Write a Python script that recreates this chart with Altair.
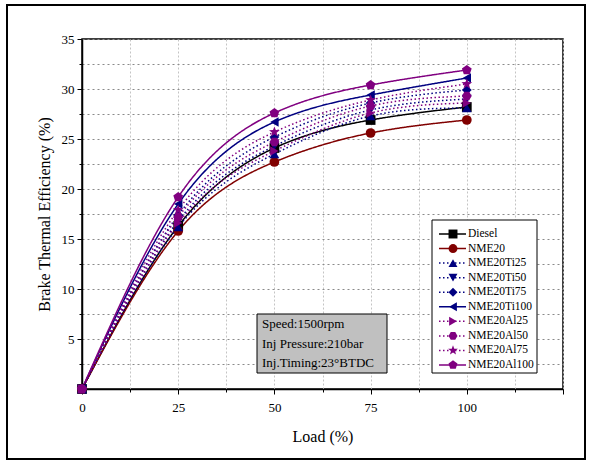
import math
import altair as alt
import pandas as pd

# ---------------- data ----------------
loads = [0, 25, 50, 75, 100]
series_names = ["Diesel", "NME20", "NME20Ti25", "NME20Ti50", "NME20Ti75", "NME20Ti100",
                "NME20Al25", "NME20Al50", "NME20Al75", "NME20Al100"]
diesel = [0, 16.3, 24.1, 26.9, 28.2]
nme20 = [0, 15.8, 22.7, 25.6, 26.9]
ti25 = [0, 16.2, 23.5, 27.3, 28.1]
ti50 = [0, 16.8, 24.3, 27.9, 29.0]
ti75 = [0, 17.4, 25.2, 28.6, 29.9]
ti100 = [0, 18.5, 26.7, 29.4, 31.1]
al25 = [0, 16.6, 23.8, 27.6, 28.6]
al50 = [0, 17.2, 24.7, 28.3, 29.3]
al75 = [0, 17.9, 25.7, 28.9, 30.5]
al100 = [0, 19.2, 27.6, 30.4, 31.9]
series_values = [diesel, nme20, ti25, ti50, ti75, ti100, al25, al50, al75, al100]

x_ticks = [i * 12.5 for i in range(11)]
y_ticks = [i * 2.5 for i in range(15)]
info_lines = ["Speed:1500rpm", "Inj Pressure:210bar", "Inj.Timing:23\u00b0BTDC"]

rows = []
for k, (name, vals) in enumerate(zip(series_names, series_values)):
    for l, v in zip(loads, vals):
        rows.append({"series": name, "load": l, "bte": v, "order": k})
df = pd.DataFrame(rows)
df_leg = pd.DataFrame({"series": series_names, "order": list(range(len(series_names)))})
one = pd.DataFrame({"a": [0]})

# ---------------- styles ----------------
BLACK, WINE, NAVY, PURPLE = "#000000", "#800000", "#000080", "#800080"
colors = [BLACK, WINE, NAVY, NAVY, NAVY, NAVY, PURPLE, PURPLE, PURPLE, PURPLE]
solid, dot = [1, 0], [1.5, 2.5]
dashes = [solid, solid, dot, dot, dot, solid, dot, dot, dot, solid]


def poly(n, r_out, r_in=None, start=-90):
    pts = []
    m = n * 2 if r_in else n
    for i in range(m):
        ang = math.radians(start + i * 360.0 / m)
        r = r_out if (r_in is None or i % 2 == 0) else r_in
        pts.append((r * math.cos(ang), r * math.sin(ang)))
    return "M" + " L".join(f"{x:.3f},{y:.3f}" for x, y in pts) + " Z"


hexagon = poly(6, 1.0, start=0)
star = poly(5, 1.15, 0.48)
pentagon = poly(5, 1.05)
shapes = ["square", "circle", "triangle-up", "triangle-down", "diamond", "triangle-left",
          "triangle-right", hexagon, star, pentagon]

color_scale = alt.Scale(domain=series_names, range=colors)
dash_scale = alt.Scale(domain=series_names, range=dashes)
shape_scale = alt.Scale(domain=series_names, range=shapes)

FONT = "Liberation Serif"

x_scale = alt.Scale(domain=[0, 125], nice=False, zero=False)
y_scale = alt.Scale(domain=[0, 35], nice=False, zero=False)

x_axis = alt.Axis(
    values=x_ticks, title="Load (%)", titleFontSize=16, titleFontWeight="normal",
    titleBaseline="alphabetic", titleY=52, titleX=240.5, titleAnchor="middle",
    labelFontSize=13, labelPadding=7, labelColor="black",
    labelExpr="(datum.value % 25 === 0 && datum.value <= 100) ? datum.label : ''",
    tickSize={"condition": {"test": "datum.value % 25 === 0", "value": 5}, "value": 3},
    tickColor="black", domainColor="black", domainWidth=1.5, labelFlush=False,
    grid=True, gridColor="#c4c4c4", gridDash=[2, 2], gridWidth=1,
)
y_axis = alt.Axis(
    values=y_ticks, title="Brake Thermal Efficiency (%)", titleFontSize=16,
    titleFontWeight="normal", titlePadding=9, labelFontSize=13, labelPadding=3,
    labelColor="black",
    labelExpr="(datum.value % 5 === 0 && datum.value > 0) ? datum.label : ''",
    tickSize={"condition": {"test": "datum.value % 5 === 0", "value": 5}, "value": 3},
    tickColor="black", domainColor="black", domainWidth=1.5, labelFlush=False,
    grid=True, gridColor="#8a8a8a", gridDash=[2, 3], gridWidth=1,
)

base = alt.Chart(df)

lines = base.mark_line(interpolate="natural", strokeWidth=1.5).encode(
    x=alt.X("load:Q", scale=x_scale, axis=x_axis),
    y=alt.Y("bte:Q", scale=y_scale, axis=y_axis),
    color=alt.Color("series:N", scale=color_scale, legend=None),
    strokeDash=alt.StrokeDash("series:N", scale=dash_scale, legend=None),
    detail="series:N",
    order=alt.Order("order:Q"),
)

points = base.mark_point(filled=True, size=95, opacity=1).encode(
    x=alt.X("load:Q", scale=x_scale, axis=x_axis),
    y=alt.Y("bte:Q", scale=y_scale, axis=None),
    color=alt.Color("series:N", scale=color_scale, legend=None),
    shape=alt.Shape("series:N", scale=shape_scale, legend=None),
    order=alt.Order("order:Q"),
)

# legend (drawn from the series list)
leg_y = alt.Y("series:N", scale=alt.Scale(type="point", domain=series_names,
                                           range=[195, 326], padding=0), axis=None)
leg_box = alt.Chart(one).mark_rect(fill="white", stroke="black", strokeWidth=1).encode(
    x=alt.value(350), x2=alt.value(455), y=alt.value(181), y2=alt.value(334))
leg_rule = alt.Chart(df_leg).mark_rule(strokeWidth=1.5).encode(
    x=alt.value(357), x2=alt.value(384), y=leg_y,
    color=alt.Color("series:N", scale=color_scale, legend=None),
    strokeDash=alt.StrokeDash("series:N", scale=dash_scale, legend=None))
leg_pt = alt.Chart(df_leg).mark_point(filled=True, size=80, opacity=1).encode(
    x=alt.value(371), y=leg_y,
    color=alt.Color("series:N", scale=color_scale, legend=None),
    shape=alt.Shape("series:N", scale=shape_scale, legend=None))
leg_txt = alt.Chart(df_leg).mark_text(align="left", baseline="middle", font=FONT,
                                      fontSize=11.5, color="black").encode(
    x=alt.value(386), y=leg_y, text="series:N")

# info box
info_box = alt.Chart(one).mark_rect(fill="#c0c0c0", stroke="black", strokeWidth=1).encode(
    x=alt.value(175), x2=alt.value(305), y=alt.value(275), y2=alt.value(334))
info_txt = alt.Chart(one).mark_text(text=info_lines, align="left", baseline="middle",
                                    font=FONT, fontSize=13, lineHeight=19.5,
                                    color="black").encode(
    x=alt.value(180), y=alt.value(285))

# outer frame of the figure
frame = alt.Chart(one).mark_rect(fill="white", fillOpacity=0, stroke="black",
                                 strokeWidth=2).encode(
    x=alt.value(-75), x2=alt.value(503), y=alt.value(-34), y2=alt.value(420))

chart = alt.layer(
    lines, points, leg_box, leg_rule, leg_pt, leg_txt, info_box, info_txt, frame
).resolve_scale(y="independent").properties(
    width=481, height=350,
    autosize=alt.AutoSizeParams(type="none"),
    padding={"left": 82, "top": 39, "right": 30, "bottom": 77},
    background="white",
).configure(font=FONT).configure_view(stroke="black", strokeWidth=1.5).configure_axis(
    labelFont=FONT, titleFont=FONT, titleColor="black")

chart.save("out.html", embed_options={"renderer": "svg", "actions": False})
